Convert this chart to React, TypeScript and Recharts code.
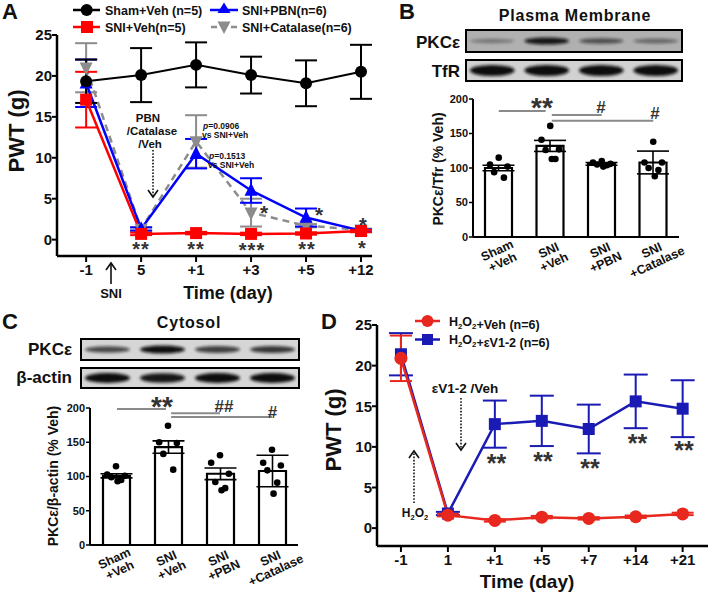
import React from 'react';
import { ComposedChart, Line, Bar, Scatter, XAxis, YAxis, ErrorBar, ReferenceLine } from 'recharts';

const FONT = '"Liberation Sans", Arial, Helvetica, sans-serif';

// ---- Panel A: PWT after SNI, PBN / Catalase / Veh ----
const timeLabelsA = ['-1', '5', '+1', '+3', '+5', '+12'];
const shamVeh = [19.35, 20.1, 21.35, 20.1, 19.1, 20.5];
const shamVehErr = [2.65, 3.3, 2.75, 2.25, 2.8, 3.3];
const sniVeh = [17.1, 0.7, 0.8, 0.7, 0.75, 1.05];
const sniVehErr = [3.4, 0.15, 0.15, 0.15, 0.15, 0.15];
const sniPbn = [19.1, 1.3, 10.5, 6.0, 2.7, 1.1];
const sniPbnErr = [2.9, 0.2, 1.8, 1.5, 1.1, 0.15];
const sniCat = [21.0, 1.3, 12.0, 3.3, 1.7, 1.2];
const sniCatErr = [3.0, 0.2, 3.2, 1.7, 0.2, 0.15];

// ---- Panels B / C: PKCe densitometry ----
const groups = ['Sham+Veh', 'SNI+Veh', 'SNI+PBN', 'SNI+Catalase'];
const pmMean = [100, 132, 106, 108];
const pmErr = [4, 8, 2, 16.5];
const pmPoints = [
  [115, 105, 102, 94, 86],
  [161, 141, 127, 126, 113, 113],
  [110, 108, 106, 105, 104, 102],
  [138, 108, 108, 100, 97, 88],
];
const cyMean = [101, 143, 104, 108];
const cyErr = [3, 9, 8.5, 23];
const cyPoints = [
  [115, 103, 101, 99, 95, 93],
  [174, 150, 149, 133, 110],
  [131, 120, 104, 92, 83, 80],
  [139, 120, 116, 109, 91, 75],
];

// ---- Panel D: H2O2 + eV1-2 ----
const timeLabelsD = ['-1', '1', '+1', '+5', '+7', '+14', '+21'];
const h2o2Veh = [20.9, 1.6, 0.95, 1.35, 1.2, 1.4, 1.75];
const h2o2VehErr = [2.8, 0.15, 0.15, 0.15, 0.15, 0.15, 0.15];
const h2o2Ev = [21.4, 1.8, 12.8, 13.2, 12.2, 15.6, 14.7];
const h2o2EvErr = [2.6, 0.2, 2.9, 3.1, 3.0, 3.3, 3.5];

// blot lane intensities (0..1)
const pmPkcBands = [0.35, 0.95, 0.6, 0.45];
const pmTfrBands = [1, 1, 1, 1];
const cyPkcBands = [0.7, 1, 0.75, 0.8];
const cyActinBands = [1, 0.95, 1, 1];

const rowsA = timeLabelsA.map((_, i) => ({
  x: i,
  sham: shamVeh[i], shamE: shamVehErr[i],
  veh: sniVeh[i], vehE: sniVehErr[i],
  pbn: sniPbn[i], pbnE: sniPbnErr[i],
  cat: sniCat[i], catE: sniCatErr[i],
}));

const rowsD = timeLabelsD.map((_, i) => ({
  x: i,
  veh: h2o2Veh[i], vehE: h2o2VehErr[i],
  ev: h2o2Ev[i], evE: h2o2EvErr[i],
}));

const JITTER = [0, -0.17, 0.17, -0.09, 0.1, 0.03];
const toRows = (mean: number[], err: number[]) => groups.map((name, i) => ({ name, mean: mean[i], err: err[i] }));
const toPts = (pts: number[][]) =>
  pts.flatMap((g, gi) => g.map((y, j) => ({ x: gi + JITTER[j % JITTER.length], y })));

const axisStroke = { stroke: '#000', strokeWidth: 2.5 };
const bigTick = { fill: '#111', fontSize: 15, fontWeight: 700, fontFamily: FONT };
const smallTick = { fill: '#111', fontSize: 11, fontWeight: 700, fontFamily: FONT };

const circleDot = (color: string, r: number) => (p: any) =>
  <circle key={`c${p.index}`} cx={p.cx} cy={p.cy} r={r} fill={color} />;
const squareDot = (color: string, s: number) => (p: any) =>
  <rect key={`s${p.index}`} x={p.cx - s / 2} y={p.cy - s / 2} width={s} height={s} fill={color} />;
const triDot = (color: string, s: number, down = false) => (p: any) => {
  const k = down ? -1 : 1;
  const pts = `${p.cx},${p.cy - k * s * 0.6} ${p.cx - s / 2},${p.cy + k * s * 0.4} ${p.cx + s / 2},${p.cy + k * s * 0.4}`;
  return <polygon key={`t${p.index}`} points={pts} fill={color} />;
};
const blackPoint = (p: any) => <circle cx={p.cx} cy={p.cy} r={3.3} fill="#000" />;

function GroupTick(props: any) {
  const { x, y, payload } = props;
  const s = String(payload.value);
  const cut = s.indexOf('+');
  return (
    <g transform={`translate(${x + 1},${y + 17}) rotate(-25)`}>
      <text textAnchor="middle" fontSize={12.5} fontWeight={700} fontFamily={FONT} fill="#111">
        <tspan x={0} y={-2}>{s.slice(0, cut)}</tspan>
        <tspan x={0} y={11}>{s.slice(cut)}</tspan>
      </text>
    </g>
  );
}

function Blot({ id, left, top, width, height, bg, bands, thick }: any) {
  const lane = width / bands.length;
  return (
    <svg style={{ position: 'absolute', left, top }} width={width} height={height}>
      <defs>
        <filter id={id} x="-20%" y="-50%" width="140%" height="200%">
          <feGaussianBlur stdDeviation="1.5" />
        </filter>
      </defs>
      <rect x={1} y={1} width={width - 2} height={height - 2} fill={bg} stroke="#000" strokeWidth={2} />
      {bands.map((v: number, i: number) => (
        <ellipse key={i} cx={lane * (i + 0.5)} cy={height / 2} rx={lane * 0.41}
          ry={thick * (0.45 + 0.55 * v)} fill="#111" opacity={v} filter={`url(#${id})`} />
      ))}
    </svg>
  );
}

function BarPanel({ left, top, width, height, margin, rows, pts, sig }: any) {
  return (
    <div style={{ position: 'absolute', left, top }}>
      <ComposedChart width={width} height={height} data={rows} margin={margin}>
        <XAxis xAxisId="cat" dataKey="name" type="category" interval={0} height={margin.xh}
          axisLine={{ stroke: '#000', strokeWidth: 2 }} tickLine={false} tickSize={0} tick={<GroupTick />} />
        <XAxis xAxisId="num" dataKey="x" type="number" domain={[-0.5, 3.5]} hide allowDataOverflow />
        <YAxis type="number" domain={[0, 200]} ticks={[0, 50, 100, 150, 200]} width={45} allowDataOverflow
          axisLine={{ stroke: '#000', strokeWidth: 2 }} tickLine={{ stroke: '#000', strokeWidth: 1.5 }}
          tickSize={4} tickMargin={1} tick={smallTick} />
        <Bar xAxisId="cat" dataKey="mean" fill="#fff" stroke="#000" strokeWidth={2.2} barSize={27} isAnimationActive={false}>
          <ErrorBar dataKey="err" width={16} stroke="#000" strokeWidth={1.6} direction="y" />
        </Bar>
        <Scatter xAxisId="num" data={pts} dataKey="y" shape={blackPoint} isAnimationActive={false} />
        {sig.map((s: number[], i: number) => (
          <ReferenceLine key={i} xAxisId="num" segment={[{ x: s[0], y: s[2] }, { x: s[1], y: s[2] }]}
            stroke="#8a8a8a" strokeWidth={2} />
        ))}
      </ComposedChart>
    </div>
  );
}

function T({ x, y, s = 13, a = 'start', c = '#111', w = 700, children, ...rest }: any) {
  return (
    <text x={x} y={y} fontSize={s} textAnchor={a} fill={c} fontWeight={w} fontFamily={FONT} {...rest}>
      {children}
    </text>
  );
}

function Arrow({ x, y1, y2, dotted }: any) {
  // y1 = tail, y2 = head
  const d = y2 > y1 ? -1 : 1;
  return (
    <g stroke="#111" strokeWidth={1.6} fill="none">
      <line x1={x} y1={y1} x2={x} y2={y2} strokeDasharray={dotted ? '1.6 1.6' : undefined} />
      <polyline points={`${x - 5},${y2 + d * 7} ${x},${y2} ${x + 5},${y2 + d * 7}`} />
    </g>
  );
}

const H2O2 = ({ s }: any) => (
  <>
    H<tspan fontSize={s * 0.62} dy={3}>2</tspan><tspan dy={-3}>O</tspan>
    <tspan fontSize={s * 0.62} dy={3}>2</tspan><tspan dy={-3}></tspan>
  </>
);

export default function App() {
  const star = (x: number, cy: number, str: string, s = 22, ls = 0) => (
    <T x={x} y={cy + s * 0.57} s={s} a="middle" c="#333" letterSpacing={ls}>{str}</T>
  );
  return (
    <div style={{ position: 'absolute', left: 0, top: 0, width: 709, height: 596, background: '#fff', overflow: 'hidden', fontFamily: FONT }}>
      {/* Panel A */}
      <div style={{ position: 'absolute', left: 0, top: 0 }}>
        <ComposedChart width={380} height={300} data={rowsA} margin={{ top: 35, right: 8, bottom: 14, left: 12 }}>
          <XAxis type="number" dataKey="x" domain={[-0.53, 5.2]} ticks={[0, 1, 2, 3, 4, 5]} allowDataOverflow
            tickFormatter={(v: number) => timeLabelsA[v]} axisLine={axisStroke}
            tickLine={{ stroke: '#000', strokeWidth: 2 }} tickSize={6} tick={bigTick} height={30} />
          <YAxis type="number" domain={[-2, 25]} ticks={[0, 5, 10, 15, 20, 25]} allowDataOverflow width={45}
            axisLine={axisStroke} tickLine={{ stroke: '#000', strokeWidth: 2 }} tickSize={5} tickMargin={0} tick={bigTick} />
          <Line dataKey="cat" stroke="#8c8c8c" strokeWidth={2.5} strokeDasharray="7 5" dot={triDot('#8c8c8c', 13, true)}
            activeDot={false} isAnimationActive={false}>
            <ErrorBar dataKey="catE" width={11} stroke="#8c8c8c" strokeWidth={2} direction="y" />
          </Line>
          <Line dataKey="pbn" stroke="#0000ff" strokeWidth={2.5} dot={triDot('#0000ff', 13)}
            activeDot={false} isAnimationActive={false}>
            <ErrorBar dataKey="pbnE" width={11} stroke="#0000ff" strokeWidth={2} direction="y" />
          </Line>
          <Line dataKey="veh" stroke="#ff0000" strokeWidth={2.5} dot={squareDot('#ff0000', 12)}
            activeDot={false} isAnimationActive={false}>
            <ErrorBar dataKey="vehE" width={11} stroke="#ff0000" strokeWidth={2} direction="y" />
          </Line>
          <Line dataKey="sham" stroke="#000" strokeWidth={2} dot={circleDot('#000', 6)}
            activeDot={false} isAnimationActive={false}>
            <ErrorBar dataKey="shamE" width={11} stroke="#000" strokeWidth={2} direction="y" />
          </Line>
        </ComposedChart>
      </div>

      {/* Panel B */}
      <Blot id="b1" left={465} top={29} width={218} height={24} bg="#b0b0b0" bands={pmPkcBands} thick={3.5} />
      <Blot id="b2" left={465} top={59} width={218} height={23} bg="#d2d2d2" bands={pmTfrBands} thick={5.5} />
      <BarPanel left={380} top={80} width={329} height={210}
        margin={{ top: 19, right: 30, bottom: 0, left: 48, xh: 53 }}
        rows={toRows(pmMean, pmErr)} pts={toPts(pmPoints)}
        sig={[[0, 0.91, 182.6], [1.03, 2, 176.8], [1.03, 3, 168.5]]} />

      {/* Panel C */}
      <Blot id="c1" left={80} top={338} width={220} height={23} bg="#d6d6d6" bands={cyPkcBands} thick={4} />
      <Blot id="c2" left={80} top={367} width={220} height={22} bg="#d6d6d6" bands={cyActinBands} thick={5} />
      <BarPanel left={0} top={390} width={330} height={205}
        margin={{ top: 18, right: 32, bottom: 0, left: 45, xh: 50 }}
        rows={toRows(cyMean, cyErr)} pts={toPts(cyPoints)}
        sig={[[0.02, 0.96, 198.4], [1.06, 2, 192.5], [1.06, 3, 186.7]]} />

      {/* Panel D */}
      <div style={{ position: 'absolute', left: 330, top: 290 }}>
        <ComposedChart width={379} height={306} data={rowsD} margin={{ top: 35, right: 1, bottom: 20, left: 2 }}>
          <XAxis type="number" dataKey="x" domain={[-0.51, 6.54]} ticks={[0, 1, 2, 3, 4, 5, 6]} allowDataOverflow
            tickFormatter={(v: number) => timeLabelsD[v]} axisLine={axisStroke}
            tickLine={{ stroke: '#000', strokeWidth: 2 }} tickSize={6} tick={bigTick} height={30} />
          <YAxis type="number" domain={[-2.2, 25]} ticks={[0, 5, 10, 15, 20, 25]} allowDataOverflow width={45}
            axisLine={axisStroke} tickLine={{ stroke: '#000', strokeWidth: 2 }} tickSize={5} tickMargin={0} tick={bigTick} />
          <Line dataKey="ev" stroke="#1a1ab4" strokeWidth={2.5} dot={squareDot('#1a1ab4', 12)}
            activeDot={false} isAnimationActive={false}>
            <ErrorBar dataKey="evE" width={12} stroke="#1a1ab4" strokeWidth={2} direction="y" />
          </Line>
          <Line dataKey="veh" stroke="#e8281e" strokeWidth={2.5} dot={circleDot('#e8281e', 6.5)}
            activeDot={false} isAnimationActive={false}>
            <ErrorBar dataKey="vehE" width={11} stroke="#e8281e" strokeWidth={2} direction="y" />
          </Line>
        </ComposedChart>
      </div>

      {/* text and annotations */}
      <svg style={{ position: 'absolute', left: 0, top: 0, pointerEvents: 'none' }} width={709} height={596}>
        <T x={2} y={19} s={22}>A</T>
        <T x={399} y={19} s={22}>B</T>
        <T x={2} y={329} s={22}>C</T>
        <T x={321} y={329} s={22}>D</T>

        {/* legend A */}
        <line x1={73} y1={10} x2={100} y2={10} stroke="#000" strokeWidth={2.5} />
        <circle cx={86.7} cy={10} r={6} fill="#000" />
        <T x={105} y={14.5} s={12.5}>Sham+Veh (n=5)</T>
        <line x1={210} y1={10} x2={238} y2={10} stroke="#0000ff" strokeWidth={2.5} />
        <polygon points="224,2.5 217.5,13 230.5,13" fill="#0000ff" />
        <T x={242} y={14.5} s={12.5}>SNI+PBN(n=6)</T>
        <line x1={73} y1={27} x2={100} y2={27} stroke="#ff0000" strokeWidth={2.5} />
        <rect x={81} y={21} width={12} height={12} fill="#ff0000" />
        <T x={105} y={31.5} s={12.5}>SNI+Veh(n=5)</T>
        <line x1={211} y1={27} x2={238} y2={27} stroke="#8c8c8c" strokeWidth={2.5} strokeDasharray="6 4" />
        <polygon points="224,34 217.5,21.5 230.5,21.5" fill="#8c8c8c" />
        <T x={242} y={31.5} s={12.5}>SNI+Catalase(n=6)</T>

        {/* axis titles A */}
        <T x={16} y={131} s={22} a="middle" dominantBaseline="central" transform="rotate(-90 16 131)">PWT (g)</T>
        <T x={228} y={299} s={18} a="middle">Time (day)</T>
        <T x={111} y={298} s={13} a="middle">SNI</T>
        <Arrow x={111} y1={284} y2={263} />

        {/* annotations A */}
        <T x={148} y={122} s={11.5} a="middle">PBN</T>
        <T x={152} y={135} s={11.5} a="middle">/Catalase</T>
        <T x={150} y={148} s={11.5} a="middle">/Veh</T>
        <Arrow x={153} y1={150} y2={197} dotted />
        <T x={203} y={129} s={8.5}><tspan fontStyle="italic">p</tspan>=0.0906</T>
        <T x={202} y={138} s={8.5}>vs SNI+Veh</T>
        <T x={209} y={158.5} s={8.5}><tspan fontStyle="italic">p</tspan>=0.1513</T>
        <T x={208} y={167.5} s={8.5}>vs SNI+Veh</T>
        {star(141, 245, '**', 20, 1)}
        {star(196, 245, '**', 20, 1)}
        {star(252, 245.5, '***', 20, 1)}
        {star(307, 245, '**', 20, 1)}
        {star(362, 244, '*', 20)}
        {star(363, 221, '*', 20)}
        {star(264, 208, '*', 21)}
        {star(319, 210, '*', 21)}

        {/* Panel B texts */}
        <T x={575} y={21} s={16} a="middle" letterSpacing={0.8}>Plasma Membrane</T>
        <T x={460} y={48} s={17} a="end">PKCε</T>
        <T x={460} y={77} s={17} a="end">TfR</T>
        <T x={438} y={169} s={14} a="middle" dominantBaseline="central" transform="rotate(-90 438 169)">PKCε/Tfr (% Veh)</T>
        {star(542, 101, '**', 28)}
        <T x={601} y={112.5} s={17} a="middle" c="#333">#</T>
        <T x={655} y={118.5} s={17} a="middle" c="#333">#</T>

        {/* Panel C texts */}
        <T x={189} y={328} s={16} a="middle" letterSpacing={0.8}>Cytosol</T>
        <T x={72} y={355} s={17} a="end">PKCε</T>
        <T x={72} y={383} s={17} a="end">β-actin</T>
        <T x={53} y={476} s={14} a="middle" dominantBaseline="central" transform="rotate(-90 53 476)">PKCε/β-actin (% Veh)</T>
        {star(162, 400, '**', 28)}
        <T x={224} y={412} s={17} a="middle" c="#333">##</T>
        <T x={272.5} y={418} s={17} a="middle" c="#333">#</T>

        {/* Panel D texts */}
        <line x1={415} y1={321} x2={440} y2={321} stroke="#e8281e" strokeWidth={2.5} />
        <circle cx={427.5} cy={321} r={6} fill="#e8281e" />
        <T x={449} y={325.5} s={12.5}><H2O2 s={12.5} />+Veh (n=6)</T>
        <line x1={415} y1={339.5} x2={440} y2={339.5} stroke="#1a1ab4" strokeWidth={2.5} />
        <rect x={422} y={334} width={11} height={11} fill="#1a1ab4" />
        <T x={449} y={344} s={12.5}><H2O2 s={12.5} />+εV1-2 (n=6)</T>
        <T x={333} y={430} s={22} a="middle" dominantBaseline="central" transform="rotate(-90 333 430)">PWT (g)</T>
        <T x={527} y={588} s={19} a="middle">Time (day)</T>
        <T x={465} y={393} s={13.5} a="middle">εV1-2 /Veh</T>
        <Arrow x={461} y1={398} y2={450} dotted />
        <Arrow x={414} y1={503} y2={451} dotted />
        <T x={415} y={517} s={12} a="middle"><H2O2 s={12} /></T>
        {star(496.5, 458, '**', 25)}
        {star(543, 455.5, '**', 25)}
        {star(590, 462.5, '**', 25)}
        {star(637.5, 437.5, '**', 25)}
        {star(684, 445, '**', 25)}
      </svg>
    </div>
  );
}
